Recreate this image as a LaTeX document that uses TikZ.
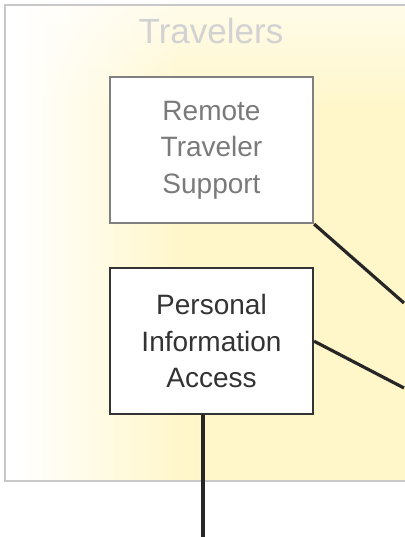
\documentclass[tikz,border=0pt]{standalone}
\usepackage{fontspec}
\setmainfont{Liberation Sans}
\usetikzlibrary{positioning, calc, fadings}

\definecolor{paleyellow}{HTML}{FFF7CA}
\definecolor{framegray}{HTML}{C8C8C8}
\definecolor{titlegray}{HTML}{D2D2D2}
\definecolor{softgray}{HTML}{7A7A7A}
\definecolor{darkgray}{HTML}{333333}

\pgfdeclarehorizontalshading{panelshade}{100bp}{color(0bp)=(white); color(26bp)=(white);
    color(44bp)=(paleyellow); color(100bp)=(paleyellow)}

\begin{document}
\begin{tikzpicture}[
    x = 1pt,
    y = 1pt,
    auto,
    sysbox/.style = {draw, line width=2.2pt, fill=white, inner sep=0pt,
        minimum width=203pt, minimum height=146pt, align=center,
        font=\fontsize{28}{36.5}\selectfont},
    link/.style = {line width=3.2pt, draw=black!85}
]
\useasboundingbox (0,0) rectangle (404,-537);

% 1. Background panel for the travelers subsystem
\shade[shading=panelshade] (5,-5) rectangle (470,-481);
\fill[white, path fading=south, opacity=0.6] (5,-5) rectangle (470,-110);
\draw[framegray, line width=1.2pt] (470,-5) -- (5,-5) -- (5,-481) -- (470,-481);

\node (title) at (211,-31) {\color{titlegray}\fontsize{35}{40}\selectfont Travelers};

% 2. The two equipment packages
\node[sysbox, draw=black!50, text=softgray] (rts) at (211.5,-150)
    {Remote\\Traveler\\Support};
\node[sysbox, draw=darkgray, text=darkgray, below=43pt of rts] (pia)
    {Personal\\Information\\Access};

% 3. Free ends of the connectors
\coordinate (rtsout) at (404,-303);
\coordinate (piaout) at (404,-388);
\coordinate (piadown) at (203,-537);

% 4. Connectors
\draw[link] (rts.south east) -- (rtsout);
\draw[link] (pia.east) -- (piaout);
\draw[link] (pia.south -| piadown) -- (piadown);

\end{tikzpicture}
\end{document}
